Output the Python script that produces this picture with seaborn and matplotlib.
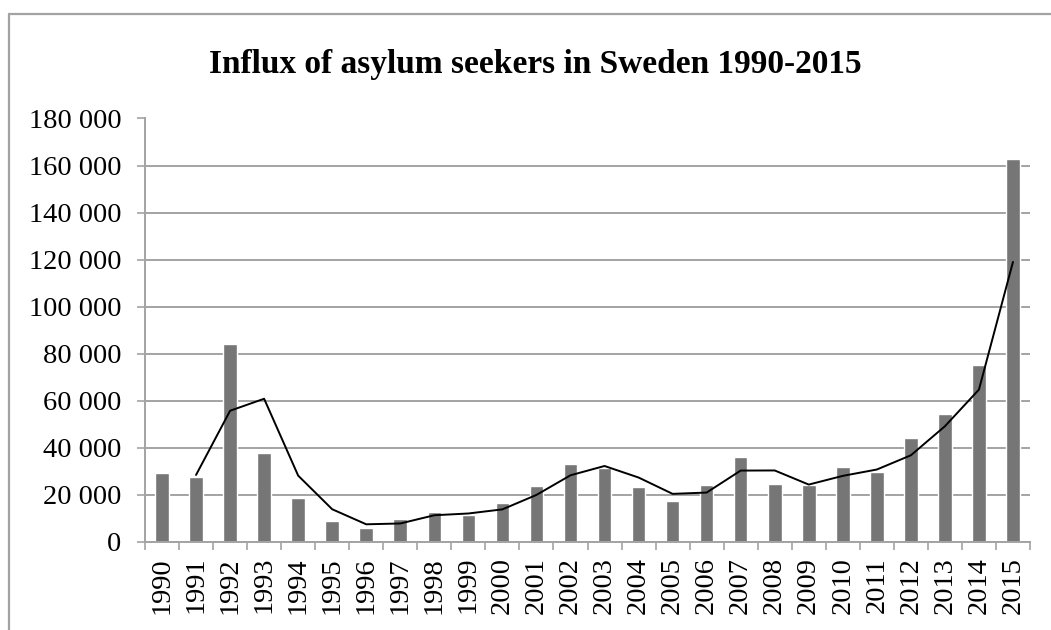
import numpy as np
import pandas as pd
import matplotlib
matplotlib.use("Agg")
import matplotlib.pyplot as plt
from matplotlib.lines import Line2D
from matplotlib.ticker import FixedLocator, FuncFormatter
import seaborn as sns

# Asylum applications per year
years = [str(y) for y in range(1990, 2016)]
applications = [29400, 27400, 84000, 37600, 18600, 9000, 5800, 9700, 12800, 11200,
                16300, 23500, 33000, 31400, 23200, 17500, 24300, 36200, 24400, 24200,
                31800, 29600, 43900, 54300, 75100, 162900]
y_ticks = list(range(0, 180001, 20000))
title = "Influx of asylum seekers in Sweden 1990-2015"

df = pd.DataFrame({"year": years, "applications": applications})
# Two-period moving average trendline
df["trend"] = df["applications"].rolling(2).mean()

sns.set_theme(style="white")
plt.rcParams["font.family"] = ["Liberation Serif", "DejaVu Serif"]

GRID = "#a3a3a3"
BAR = "#767676"

fig = plt.figure(figsize=(10.51, 6.30), dpi=100)
ax = fig.add_axes([145 / 1051, 1 - 541.7 / 630, (1030 - 145) / 1051, (541.7 - 118.5) / 630])

sns.barplot(data=df, x="year", y="applications", color=BAR, width=0.4,
            saturation=1, ax=ax, zorder=2)
trend = df.dropna(subset=["trend"])
sns.lineplot(x=trend.index.to_numpy(), y=trend["trend"].to_numpy(), color="black",
             linewidth=1.4, ax=ax, zorder=3)

n = len(years)
ax.set_xlim(-0.5, n - 0.5)
ax.set_ylim(0, 180000)
ax.set_xlabel("")
ax.set_ylabel("")

# y axis: thousands separated by a space
ax.yaxis.set_major_locator(FixedLocator(y_ticks))
ax.yaxis.set_major_formatter(FuncFormatter(lambda v, p: f"{int(v):,}".replace(",", " ")))
ax.yaxis.grid(True, color=GRID, linewidth=1.4)
ax.set_axisbelow(True)
ax.tick_params(axis="y", which="major", left=True, length=6, width=1.2, color=GRID,
               labelsize=20.5, pad=11, labelcolor="black")

# x axis: labels centred on categories, tick marks between them
ax.set_xticks(range(n))
ax.set_xticklabels(years, rotation=90, fontsize=20.5, color="black")
ax.set_xticks(np.arange(-0.5, n, 1.0), minor=True)
ax.tick_params(axis="x", which="major", length=0, pad=11)
ax.tick_params(axis="x", which="minor", bottom=True, length=6, width=1.2, color=GRID)

for side in ("top", "right"):
    ax.spines[side].set_visible(False)
for side in ("left", "bottom"):
    ax.spines[side].set_visible(True)
    ax.spines[side].set_color(GRID)
    ax.spines[side].set_linewidth(1.4)

fig.text(0.509, 1 - 73 / 630, title, ha="center", va="baseline", fontsize=24,
         fontweight="bold", color="black")

# Chart area border
fig.add_artist(Line2D([8.5 / 1051, 1.0], [1 - 13.5 / 630, 1 - 13.5 / 630],
                      transform=fig.transFigure, color=GRID, linewidth=1.6))
fig.add_artist(Line2D([8.5 / 1051, 8.5 / 1051], [0.0, 1 - 13.5 / 630],
                      transform=fig.transFigure, color=GRID, linewidth=1.6))

fig.savefig("out.png", dpi=100, facecolor="white")
